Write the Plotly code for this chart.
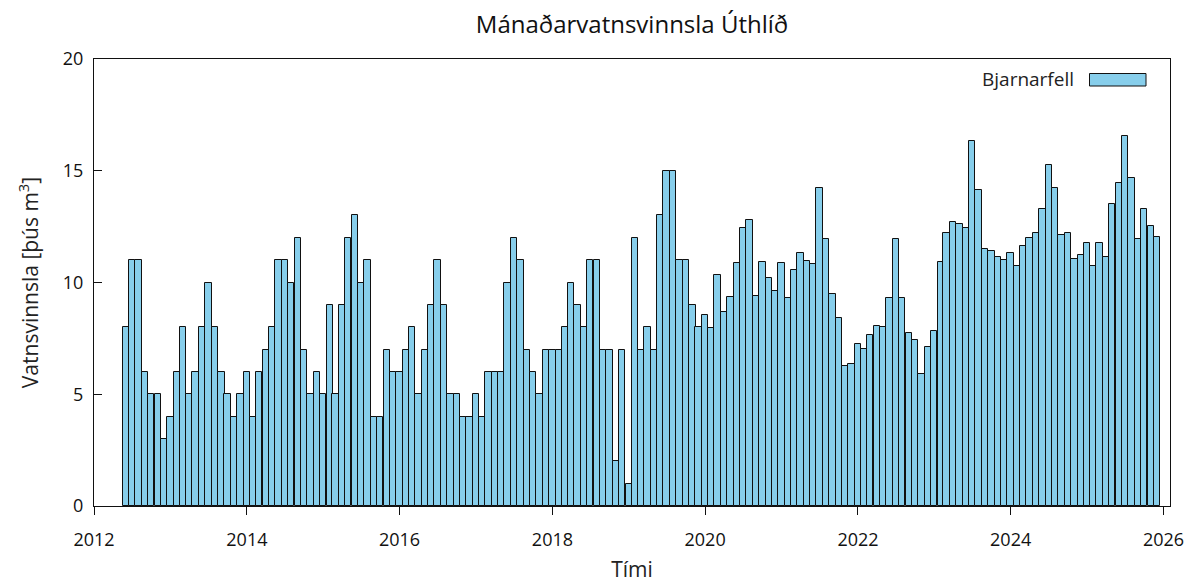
import pandas as pd
import plotly.graph_objects as go

# Monthly water production (thousand m3), Jun 2012 - Dec 2025
start_month = "2012-06-01"
end_month = "2025-12-01"
values = [
    # 2012 (Jun-Dec)
    8, 11, 11, 6, 5, 5, 3,
    # 2013
    4, 6, 8, 5, 6, 8, 10, 8, 6, 5, 4, 5,
    # 2014
    6, 4, 6, 7, 8, 11, 11, 10, 12, 7, 5, 6,
    # 2015
    5, 9, 5, 9, 12, 13, 10, 11, 4, 4, 7, 6,
    # 2016
    6, 7, 8, 5, 7, 9, 11, 9, 5, 5, 4, 4,
    # 2017
    5, 4, 6, 6, 6, 10, 12, 11, 7, 6, 5, 7,
    # 2018
    7, 7, 8, 10, 9, 8, 11, 11, 7, 7, 2, 7,
    # 2019
    1, 12, 7, 8, 7, 13, 15, 15, 11, 11, 9, 8,
    # 2020
    8.54, 7.96, 10.33, 8.66, 9.36, 10.87, 12.43, 12.81, 9.40, 10.93, 10.21, 9.63,
    # 2021
    10.87, 9.30, 10.55, 11.30, 10.97, 10.82, 14.21, 11.94, 9.48, 8.39, 6.27, 6.37,
    # 2022
    7.24, 7.03, 7.67, 8.06, 8.01, 9.30, 11.94, 9.30, 7.73, 7.42, 5.90, 7.13,
    # 2023
    7.85, 10.93, 12.22, 12.69, 12.64, 12.43, 16.31, 14.12, 11.51, 11.40, 11.15, 11.01,
    # 2024
    11.30, 10.72, 11.63, 12.01, 12.22, 13.27, 15.24, 14.22, 12.12, 12.22, 11.03, 11.25,
    # 2025
    11.75, 10.73, 11.75, 11.15, 13.52, 14.43, 16.54, 14.66, 11.96, 13.27, 12.54, 12.03,
]
months = pd.date_range(start_month, end_month, freq="MS")
series_name = "Bjarnarfell"
tick_years = [str(y) for y in range(2012, 2027, 2)]

title_text = "Mánaðarvatnsvinnsla Úthlíð"
x_title = "Tími"
y_title = "Vatnsvinnsla [þús m<sup>3</sup>]"

FONT = "Open Sans"
BAR_FILL = "#87CEEB"
MONTH_MS = 30.44 * 86400000

# page body has an 8px margin; figure sized/placed to compensate
OFF = 8
W, H = 1186, 575
L, R, T, B = 86, 24, 51, 77
pw, ph = W - L - R, H - T - B

def px_x(px):  # window pixel -> paper x
    return (px - OFF - L) / pw

def px_y(py):  # window pixel -> paper y
    return (H - B - (py - OFF)) / ph

fig = go.Figure()
fig.add_trace(go.Bar(
    x=months, y=values, name=series_name,
    width=[MONTH_MS] * len(values),
    marker=dict(color=BAR_FILL, line=dict(color="#111111", width=1)),
    showlegend=False,
))

# legend drawn as key text + sample box (text left of the sample)
fig.add_annotation(
    x=px_x(1076), y=px_y(79), xref="paper", yref="paper",
    text=series_name, showarrow=False, xanchor="right", yanchor="middle",
    font=dict(family=FONT, size=19, color="#222222"),
)
fig.add_shape(
    type="rect", xref="paper", yref="paper",
    x0=px_x(1089.5), x1=px_x(1146), y0=px_y(86), y1=px_y(73.5),
    fillcolor=BAR_FILL, line=dict(color="#111111", width=1),
)

fig.update_layout(
    width=W, height=H,
    margin=dict(l=L, r=R, t=T, b=B, autoexpand=False),
    paper_bgcolor="white", plot_bgcolor="white",
    font=dict(family=FONT, size=16, color="#111111"),
    title=dict(text=title_text, x=0.5, xref="paper", y=1 - (25 - OFF) / H, yref="container",
               xanchor="center", yanchor="middle",
               font=dict(family=FONT, size=24, color="#111111")),
    bargap=0,
)
fig.update_xaxes(
    type="date", range=["2012-01-01", "2026-02-01"],
    tickmode="array", tickvals=[f"{y}-01-01" for y in tick_years], ticktext=tick_years,
    ticks="outside", ticklen=8, tickcolor="#111111", tickwidth=1,
    ticklabelstandoff=9,
    showline=True, linecolor="#111111", linewidth=1, mirror=True,
    showgrid=False, zeroline=False,
    tickfont=dict(family=FONT, size=18, color="#111111"),
    title=dict(text=x_title, standoff=15, font=dict(family=FONT, size=21, color="#222222")),
    automargin=False,
)
fig.update_yaxes(
    range=[0, 20], tick0=0, dtick=5,
    ticks="inside", ticklen=8, tickcolor="#111111", tickwidth=1,
    ticklabelstandoff=6,
    showline=True, linecolor="#111111", linewidth=1, mirror=True,
    showgrid=False, zeroline=False,
    tickfont=dict(family=FONT, size=18, color="#111111"),
    title=dict(text=y_title, standoff=18, font=dict(family=FONT, size=21, color="#222222")),
    automargin=False,
)

fig.write_html("out.html")
